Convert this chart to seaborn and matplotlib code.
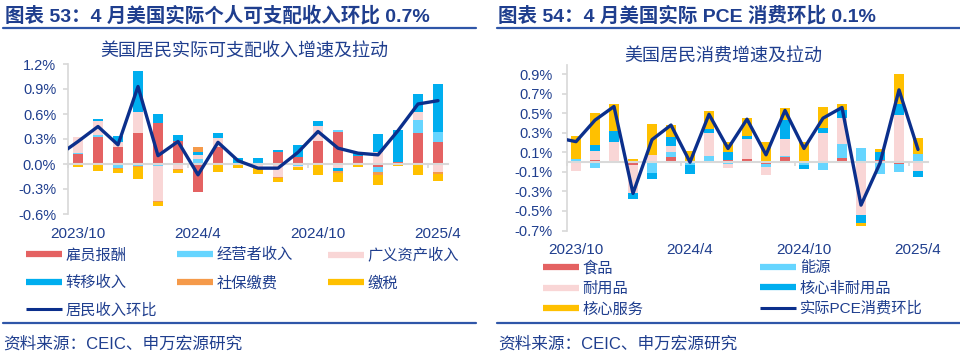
import numpy as np
import matplotlib
matplotlib.use("Agg")
import matplotlib.pyplot as plt
from matplotlib.lines import Line2D
import seaborn as sns

# ---- data ----
months = ['2023/10', '2023/11', '2023/12', '2024/1', '2024/2', '2024/3', '2024/4',
          '2024/5', '2024/6', '2024/7', '2024/8', '2024/9', '2024/10', '2024/11',
          '2024/12', '2025/1', '2025/2', '2025/3', '2025/4']
line_months = ['2023/9'] + months
xtick_labels = ['2023/10', '2024/4', '2024/10', '2025/4']

# left: real disposable income contributions (%)
comp = [0.12, 0.33, 0.20, 0.37, 0.49, 0.28, -0.34, 0.20, 0.0, 0.0,
        0.15, 0.09, 0.28, 0.38, 0.10, -0.03, 0.03, 0.37, 0.26]
proprietor = [0.01, 0.02, -0.05, -0.02, -0.02, 0.0, 0.06, 0.0, 0.01, 0.0,
              0.0, -0.02, 0.0, 0.03, 0.0, -0.07, 0.0, 0.16, 0.12]
asset = [0.20, 0.17, 0.06, 0.25, -0.42, -0.065, 0.05, 0.115, 0.0, -0.03,
         -0.15, -0.01, 0.18, -0.05, 0.0, 0.14, 0.0, 0.09, -0.10]
transfer = [0.0, 0.02, 0.07, 0.49, 0.11, 0.07, 0.035, 0.06, 0.06, 0.07,
            0.015, 0.14, 0.05, -0.03, 0.05, 0.22, 0.38, 0.22, 0.58]
social = [-0.01, -0.015, -0.015, -0.015, -0.02, -0.01, 0.065, -0.01, -0.01, -0.02,
          -0.02, -0.01, -0.01, -0.03, -0.01, -0.03, -0.005, -0.01, -0.02]
tax = [-0.02, -0.065, -0.045, -0.14, -0.045, -0.03, 0.0, -0.09, -0.04, -0.07,
       -0.05, -0.03, -0.12, -0.10, -0.02, -0.12, -0.02, -0.12, -0.08]
income_mom = [0.10, 0.27, 0.45, 0.23, 0.93, 0.10, 0.27, -0.13, 0.26, 0.04,
              -0.05, -0.05, 0.14, 0.39, 0.19, 0.13, 0.11, 0.40, 0.72, 0.76]

# right: real PCE contributions (%)
food = [0.0, 0.017, 0.007, -0.027, 0.0, 0.055, 0.0, 0.0, 0.024, 0.034,
        -0.02, 0.05, 0.0, -0.01, 0.04, 0.0, 0.025, -0.02, 0.01]
energy = [0.035, -0.055, 0.0, 0.0, -0.115, 0.05, -0.03, 0.06, -0.02, 0.0,
          -0.03, 0.017, -0.025, -0.07, 0.146, 0.15, -0.125, -0.085, 0.07]
durable = [-0.09, 0.10, 0.20, -0.29, 0.075, 0.06, 0.01, 0.24, -0.04, 0.20,
           -0.08, 0.17, 0.0, 0.30, 0.265, -0.54, 0.0, 0.48, -0.095]
core_nondur = [0.0, 0.058, 0.11, -0.06, -0.058, 0.095, -0.09, 0.04, 0.085, 0.034,
               0.0, 0.19, -0.045, 0.045, 0.08, -0.085, 0.08, 0.12, -0.058]
core_serv = [0.235, 0.33, 0.28, 0.03, 0.32, 0.12, 0.10, 0.18, 0.095, 0.18,
             0.21, 0.13, 0.21, 0.22, 0.06, -0.034, 0.025, 0.30, 0.17]
pce_mom = [0.25, 0.21, 0.43, 0.57, -0.32, 0.23, 0.38, 0.0, 0.49, 0.14,
           0.44, 0.075, 0.53, 0.14, 0.45, 0.56, -0.44, -0.01, 0.74, 0.13]

left_names = ['雇员报酬', '经营者收入', '广义资产收入', '转移收入', '社保缴费', '缴税']
right_names = ['食品', '能源', '耐用品', '核心非耐用品', '核心服务']
left_yticks = [-0.6, -0.3, 0.0, 0.3, 0.6, 0.9, 1.2]
right_yticks = [-0.7, -0.5, -0.3, -0.1, 0.1, 0.3, 0.5, 0.7, 0.9]

# ---- style ----
RED, CYAN, PINK, BLUE, ORANGE, YELLOW = '#E46262', '#66D5FF', '#F9D6D6', '#00AEEF', '#F59A4A', '#FFC000'
NAVY = '#0B2F8C'
TEXT = '#1F3E8E'
RULE = '#2F56A8'
GRID = '#D9D9D9'

sns.set_theme(style="white")
plt.rcParams['font.family'] = ['Liberation Sans', 'Noto Sans CJK SC']

W, H = 960, 357
fig = plt.figure(figsize=(9.6, 3.57), dpi=100)


def fx(x):
    return x / W


def fy(y):
    return 1 - y / H


def draw_panel(rect, series, colors, line_vals, ylim, yticks, ypad):
    ax = fig.add_axes(rect)
    n = len(months)
    x = np.arange(n)
    pos = np.zeros(n)
    neg = np.zeros(n)
    for vals, c in zip(series, colors):
        v = np.array(vals)
        bottom = np.where(v >= 0, pos, neg)
        ax.bar(x, v, bottom=bottom, width=0.5, color=c, linewidth=0, zorder=2)
        pos += np.where(v >= 0, v, 0)
        neg += np.where(v < 0, v, 0)
    sns.lineplot(x=np.arange(-1, n), y=line_vals, ax=ax, color=NAVY,
                 linewidth=2.4, zorder=4)
    ax.set_xlim(-0.5, n - 0.5)
    ax.set_ylim(*ylim)
    ax.set_xlabel('')
    ax.set_ylabel('')
    for s in ['top', 'right']:
        ax.spines[s].set_visible(False)
    ax.spines['left'].set_color(GRID)
    ax.spines['bottom'].set_color(GRID)
    ax.spines['bottom'].set_linewidth(1.5)
    ax.spines['bottom'].set_position(('data', 0))
    ax.set_yticks(yticks)
    ax.set_yticklabels([f'{v:.1f}%' for v in yticks])
    ax.tick_params(axis='y', left=True, length=3.5, color=GRID, labelcolor=TEXT,
                   labelsize=10.5, pad=ypad)
    ax.set_xticks([-0.5, 5.5, 11.5, 17.5])
    ax.tick_params(axis='x', bottom=True, length=3, color=GRID, labelbottom=False)
    sec = ax.secondary_xaxis(0)
    sec.set_xticks([0, 6, 12, 18])
    sec.set_xticklabels(xtick_labels)
    sec.tick_params(length=0, labelsize=11, labelcolor=TEXT, pad=9)
    sec.spines['bottom'].set_visible(False)
    return ax


def col_legend(entries, x, ytop, spacing):
    handles = []
    labels = []
    for lab, c, kind in entries:
        lw = 4.5 if kind == 'bar' else 2.2
        handles.append(Line2D([], [], color=c, linewidth=lw, solid_capstyle='butt'))
        labels.append(lab)
    fig.legend(handles, labels, loc='upper left', bbox_to_anchor=(fx(x), fy(ytop)),
               frameon=False, borderpad=0, borderaxespad=0, handlelength=2.35,
               handletextpad=0.25, labelspacing=spacing, fontsize=11,
               labelcolor=TEXT)


# ---- left panel ----
draw_panel([fx(68), fy(214), fx(448) - fx(68), fy(64) - fy(214)],
           [comp, proprietor, asset, transfer, social, tax],
           [RED, CYAN, PINK, BLUE, ORANGE, YELLOW],
           income_mom, (-0.6, 1.2), left_yticks, 5)

fig.text(fx(5), fy(15.5), '图表 53：4 月美国实际个人可支配收入环比 0.7%', fontsize=14,
         fontweight='bold', color=TEXT, ha='left', va='center')
fig.add_artist(Line2D([fx(3), fx(476)], [fy(28), fy(28)], color=RULE, lw=1.6))
fig.text(fx(244), fy(52), '美国居民实际可支配收入增速及拉动', fontsize=13,
         color=TEXT, ha='center', va='center')
col_legend([(left_names[0], RED, 'bar'), (left_names[3], BLUE, 'bar'),
            ('居民收入环比', NAVY, 'line')], 26, 248, 0.87)
col_legend([(left_names[1], CYAN, 'bar'), (left_names[4], ORANGE, 'bar')], 177, 248, 0.87)
col_legend([(left_names[2], PINK, 'bar'), (left_names[5], YELLOW, 'bar')], 328, 248, 0.87)
fig.add_artist(Line2D([fx(3), fx(476)], [fy(323), fy(323)], color=RULE, lw=1.6))
fig.text(fx(3), fy(344), '资料来源：CEIC、申万宏源研究', fontsize=12,
         color=TEXT, ha='left', va='center')

# ---- right panel ----
draw_panel([fx(566.5), fy(230.5), fx(927.5) - fx(566.5), fy(64.5) - fy(230.5)],
           [food, energy, durable, core_nondur, core_serv],
           [RED, CYAN, PINK, BLUE, YELLOW],
           pce_mom, (-0.7, 1.0), right_yticks, 6.5)

fig.text(fx(498), fy(15.5), '图表 54：4 月美国实际 PCE 消费环比 0.1%', fontsize=14,
         fontweight='bold', color=TEXT, ha='left', va='center')
fig.add_artist(Line2D([fx(497), fx(960)], [fy(28), fy(28)], color=RULE, lw=1.6))
fig.text(fx(723), fy(57), '美国居民消费增速及拉动', fontsize=13,
         color=TEXT, ha='center', va='center')
col_legend([(right_names[0], RED, 'bar'), (right_names[2], PINK, 'bar'),
            (right_names[4], YELLOW, 'bar')], 543, 261, 0.4)
col_legend([(right_names[1], CYAN, 'bar'), (right_names[3], BLUE, 'bar'),
            ('实际PCE消费环比', NAVY, 'line')], 760, 261, 0.4)
fig.add_artist(Line2D([fx(497), fx(960)], [fy(323), fy(323)], color=RULE, lw=1.6))
fig.text(fx(498), fy(343.5), '资料来源：CEIC、申万宏源研究', fontsize=12,
         color=TEXT, ha='left', va='center')

fig.savefig('out.png', dpi=100)
